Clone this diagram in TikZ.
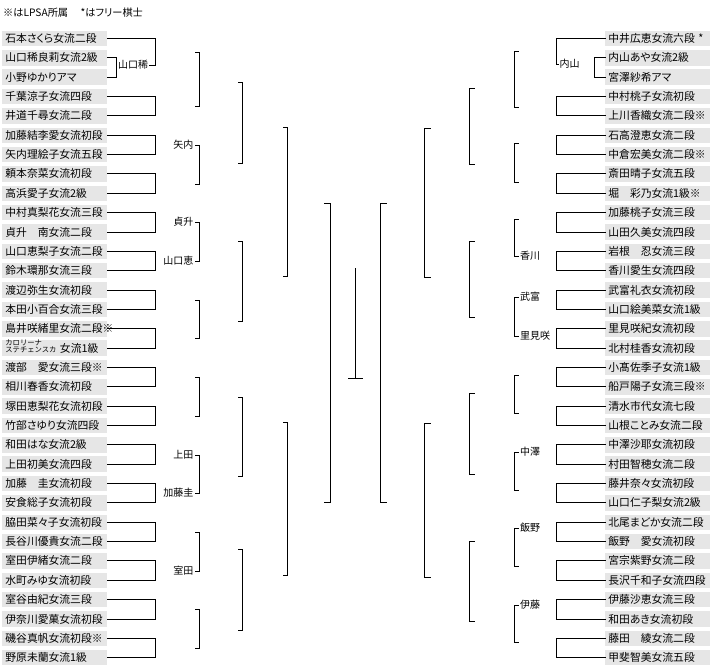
\documentclass[tikz,border=0pt]{standalone}
\usepackage{fontspec}
\setmainfont{Noto Sans CJK JP}[RawFeature=+palt]
\newfontfamily\kanafont{Noto Sans CJK JP}
\usepackage{xcolor}
\usepackage{tikz}
\definecolor{entrybg}{RGB}{230,230,230}

\begin{document}
\begin{tikzpicture}[x=1pt,y=-1pt,
    entry/.style={fill=entrybg,anchor=west,minimum width=105pt,minimum height=15.5pt,inner xsep=3.2pt,inner ysep=0pt,text width=98.6pt,align=left,text height=9.4pt,text depth=1.4pt,font=\fontsize{10.8}{12}\selectfont},
    win/.style={inner xsep=1.5pt,inner ysep=0pt,text height=8.8pt,text depth=1.2pt,font=\fontsize{10}{12}\selectfont},
    note/.style={anchor=west,inner sep=0pt,text height=8.8pt,text depth=1.2pt,font=\fontsize{10.2}{12}\selectfont},
    brk/.style={line width=1pt,line cap=rect}]
   \fill[white] (0,0) rectangle (710,670);
   \useasboundingbox (0,0) rectangle (710,670);
   \node[note] (head) at (3,13) {※はLPSA所属　 *はフリー棋士};
   \foreach \i/\t in {1/石本さくら女流二段,2/山口稀良莉女流2級,3/小野ゆかりアマ,4/千葉涼子女流四段,5/井道千尋女流二段,6/加藤結李愛女流初段,7/矢内理絵子女流五段,8/頼本奈菜女流初段,9/高浜愛子女流2級,10/中村真梨花女流三段,11/貞升　南女流二段,12/山口恵梨子女流二段,13/鈴木環那女流三段,14/渡辺弥生女流初段,15/本田小百合女流三段,16/島井咲緒里女流二段※,17/{\leavevmode\hbox{{\kanafont\fontsize{7.3}{6.8}\selectfont\vbox{\hbox{カロリーナ}\hbox{ステチェンスカ}}}\ 女流1級}},18/渡部　愛女流三段※,19/相川春香女流初段,20/塚田恵梨花女流初段,21/竹部さゆり女流四段,22/和田はな女流2級,23/上田初美女流四段,24/加藤　圭女流初段,25/安食総子女流初段,26/脇田菜々子女流初段,27/長谷川優貴女流二段,28/室田伊緒女流二段,29/水町みゆ女流初段,30/室谷由紀女流三段,31/伊奈川愛菓女流初段,32/磯谷真帆女流初段※,33/野原未蘭女流1級}
      \node[entry] (L\i) at (2,{38.5+(\i-1)*19.35}) {\t};
   \foreach \i/\t in {1/中井広恵女流六段~*,2/内山あや女流2級,3/宮澤紗希アマ,4/中村桃子女流初段,5/上川香織女流二段※,6/石高澄恵女流二段,7/中倉宏美女流二段※,8/斎田晴子女流五段,9/堀　彩乃女流1級※,10/加藤桃子女流三段,11/山田久美女流四段,12/岩根　忍女流三段,13/香川愛生女流四段,14/武富礼衣女流初段,15/山口絵美菜女流1級,16/里見咲紀女流初段,17/北村桂香女流初段,18/小髙佐季子女流1級,19/船戸陽子女流三段※,20/清水市代女流七段,21/山根ことみ女流二段,22/中澤沙耶女流初段,23/村田智穂女流二段,24/藤井奈々女流初段,25/山口仁子梨女流2級,26/北尾まどか女流二段,27/飯野　愛女流初段,28/宮宗紫野女流二段,29/長沢千和子女流四段,30/伊藤沙恵女流三段,31/和田あき女流初段,32/藤田　綾女流二段,33/甲斐智美女流五段}
      \node[entry] (R\i) at (605,{38.5+(\i-1)*19.35}) {\t};
   \coordinate (lc0) at (116,0);
   \coordinate (lc1) at (155,0);
   \coordinate (rc0) at (594,0);
   \coordinate (rc1) at (556,0);
   \node[win,anchor=west] (lw0) at (116.5,65) {山口稀};
   \node[win,anchor=east] (lw1) at (195,145) {矢内};
   \node[win,anchor=east] (lw2) at (195,222) {貞升};
   \node[win,anchor=east] (lw3) at (195,261) {山口恵};
   \node[win,anchor=east] (lw4) at (195,455) {上田};
   \node[win,anchor=east] (lw5) at (195,493) {加藤圭};
   \node[win,anchor=east] (lw6) at (195,571) {室田};
   \node[win,anchor=west] (rw0) at (558,64) {内山};
   \node[win,anchor=west] (rw1) at (518.5,256) {香川};
   \node[win,anchor=west] (rw2) at (518.5,297) {武富};
   \node[win,anchor=west] (rw3) at (518.5,336) {里見咲};
   \node[win,anchor=west] (rw4) at (518.5,452) {中澤};
   \node[win,anchor=west] (rw5) at (518.5,528) {飯野};
   \node[win,anchor=west] (rw6) at (518.5,605) {伊藤};
   \draw[brk] (L2.east) -| (lc0 |- L3.east) -- (L3.east);
   \draw[brk] (R2.west) -| (rc0 |- R3.west) -- (R3.west);
   \draw[brk] (L1.east) -| (lc1 |- lw0.east) -- (lw0.east);
   \draw[brk] (R1.west) -| (rc1 |- rw0.west) -- (rw0.west);
   \foreach \a/\b in {4/5,6/7,8/9,10/11,12/13,14/15,16/17,18/19,20/21,22/23,24/25,26/27,28/29,30/31,32/33}{
      \draw[brk] (L\a.east) -| (lc1 |- L\b.east) -- (L\b.east);
      \draw[brk] (R\a.west) -| (rc1 |- R\b.west) -- (R\b.west);
   }
   \foreach \x/\s/\ya/\yb in {199/-4/52/106,199/-4/145/184,199/-4/222/261,199/-4/300/338,199/-4/377/416,199/-4/455/493,199/-4/532/571,199/-4/609/648,
      242/-4/82/163,242/-4/241/321,242/-4/397/476,242/-4/549/630,287/-4/127/276,287/-4/422/575,330/-6/203/502,
      380/6/203/502,424/6/128/277,424/6/423/577,469/5/88/164,469/5/241/317,469/5/393/474,469/5/541/621,
      514/4/51/107,514/4/143/182,514/4/219/256,514/4/297/336,514/4/375/413,514/4/452/490,514/4/528/566,514/4/605/642}
      \draw[brk] ({\x+\s},\ya) -- (\x,\ya) -- (\x,\yb) -- ({\x+\s},\yb);
   \draw[brk] (355,268) -- (355,378) (348,378) -- (362,378);
\end{tikzpicture}
\end{document}
